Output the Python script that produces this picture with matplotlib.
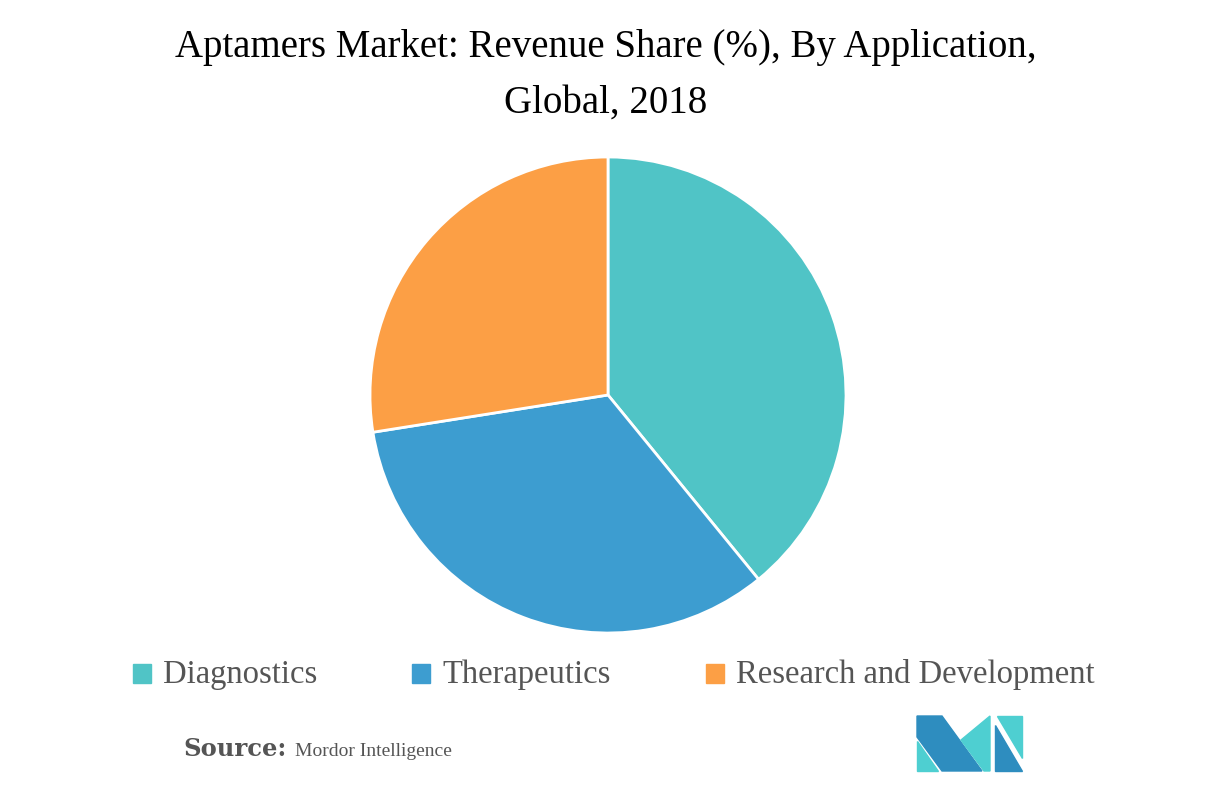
import matplotlib
matplotlib.use("Agg")
import matplotlib.pyplot as plt
from matplotlib.patches import Rectangle, Polygon

# =====================================================
# DATA
# =====================================================
categories = ["Diagnostics", "Therapeutics", "Research and Development"]
shares = [39.1, 33.4, 27.5]
colors = ["#50C4C6", "#3D9DD0", "#FC9F45"]

title_lines = ["Aptamers Market: Revenue Share (%), By Application,",
               "Global, 2018"]

W, H = 1217, 786
plt.rcParams["font.family"] = ["Liberation Serif", "DejaVu Serif"]

fig = plt.figure(figsize=(W / 100, H / 100), dpi=100)
fig.patch.set_facecolor("white")


def fx(px):
    return px / W


def fy(py):
    return 1 - py / H


# =====================================================
# PIE
# =====================================================
cx, cy, r = 608, 395, 238
ax = fig.add_axes([fx(cx - r), fy(cy + r), 2 * r / W, 2 * r / H])
ax.pie(shares, colors=colors, startangle=90, counterclock=False,
       wedgeprops=dict(edgecolor="white", linewidth=2))
ax.set_xlim(-1, 1)
ax.set_ylim(-1, 1)
ax.set_aspect("equal")
ax.axis("off")

# =====================================================
# TITLE
# =====================================================
for line, base in zip(title_lines, [57, 113]):
    fig.text(fx(606), fy(base), line, ha="center", va="baseline",
             fontsize=28, color="black")

# =====================================================
# LEGEND
# =====================================================
leg_x = [133, 412, 706]
for x, lab, c in zip(leg_x, categories, colors):
    fig.patches.append(Rectangle((fx(x), fy(683)), 18 / W, 19 / H,
                                 transform=fig.transFigure, color=c))
    fig.text(fx(x + 30), fy(683), lab, ha="left", va="baseline",
             fontsize=23.5, color="#555555")

# =====================================================
# SOURCE
# =====================================================
fig.text(fx(183), fy(756), "Source:", ha="left", va="baseline",
         fontsize=17.5, fontweight="bold", color="#555555",
         family=["DejaVu Serif"])
fig.text(fx(295), fy(756), "Mordor Intelligence", ha="left", va="baseline",
         fontsize=14, color="#555555")

# =====================================================
# LOGO
# =====================================================
dark, light = "#2E8DBF", "#4ECFD1"
logo = [
    ([(917, 716), (942, 716), (982, 771), (942, 771), (917, 737)], dark),
    ([(917, 741), (917, 771), (938, 771)], light),
    ([(961, 740), (990, 716), (990, 771), (984, 771)], light),
    ([(995, 725), (995, 771), (1022, 771)], dark),
    ([(997, 716), (1022, 716), (1022, 758)], light),
]
for pts, c in logo:
    xy = [(fx(a), fy(b)) for a, b in pts]
    fig.patches.append(Polygon(xy, closed=True, transform=fig.transFigure,
                               color=c))

fig.savefig("out.png", dpi=100, facecolor="white")
